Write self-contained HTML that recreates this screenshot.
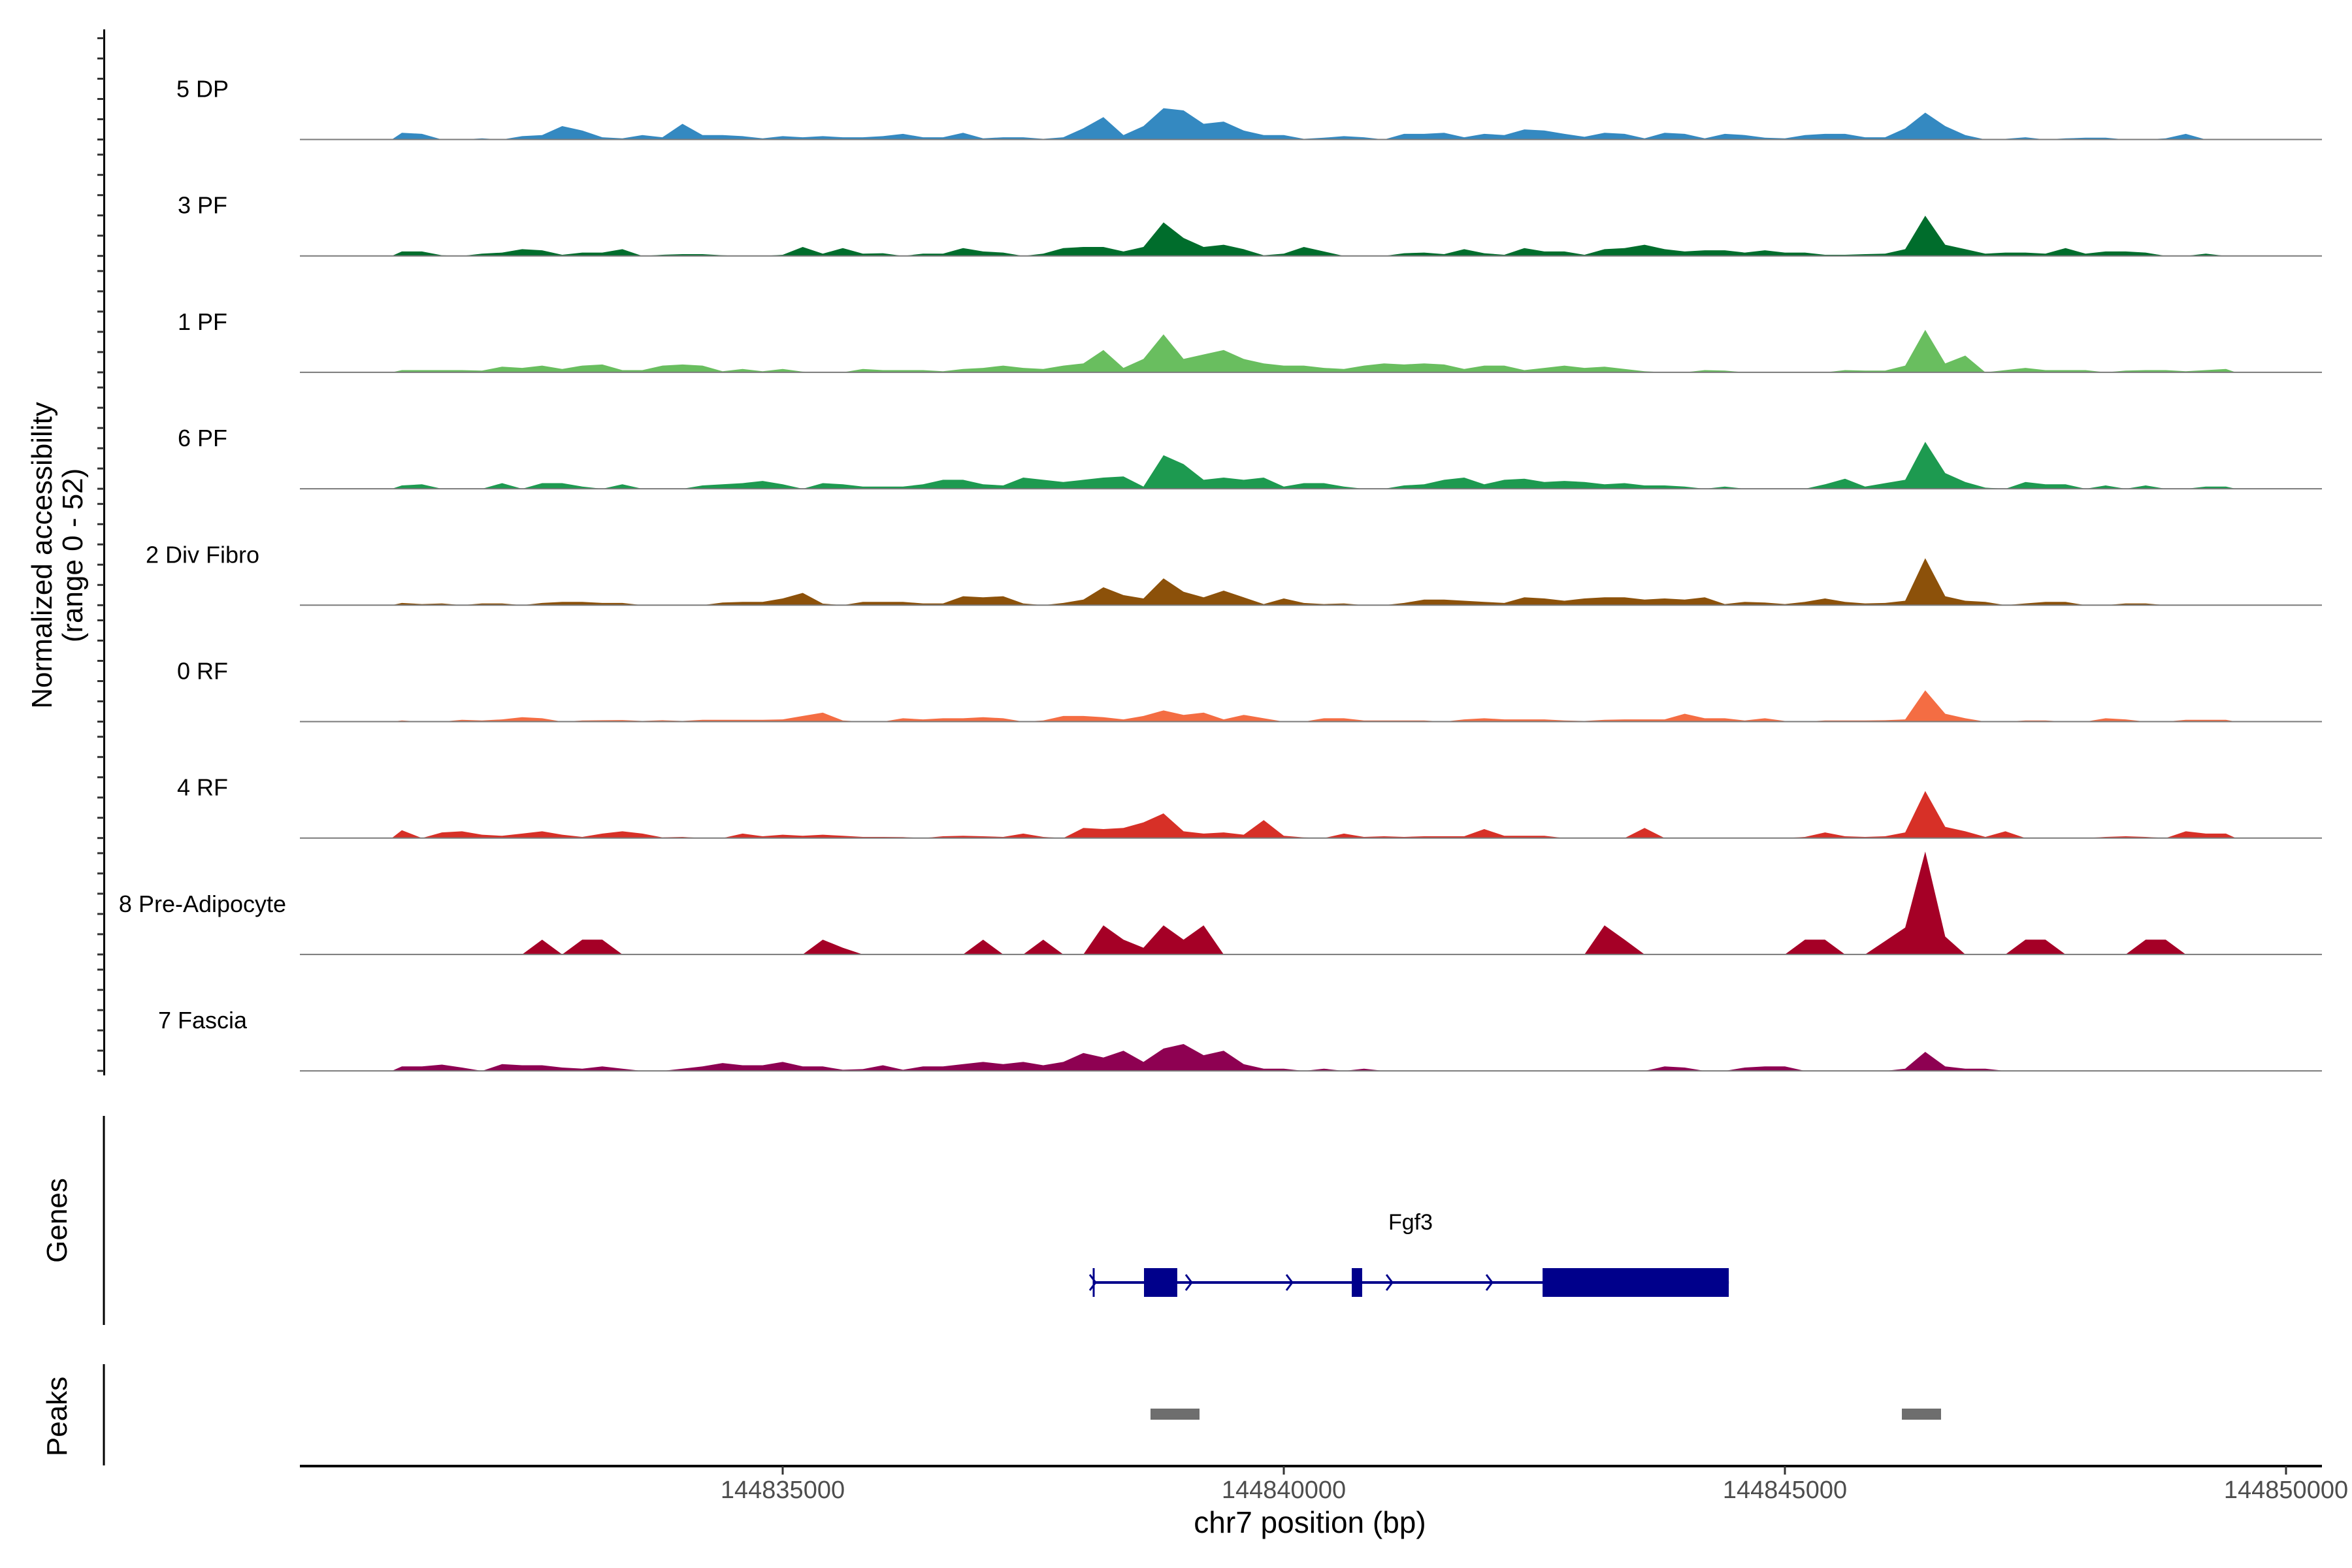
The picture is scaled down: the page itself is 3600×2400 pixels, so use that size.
<!DOCTYPE html>
<html><head><meta charset="utf-8">
<style>
html,body{margin:0;padding:0;background:#fff;}
svg{display:block;font-family:"Liberation Sans",sans-serif;}
</style></head>
<body>
<svg id="chart" width="3600" height="2400" viewBox="0 0 3600 2400" xmlns="http://www.w3.org/2000/svg">
  <g id="tracks"></g>
  <g id="yaxis">
    <line x1="159.5" y1="45" x2="159.5" y2="1646" stroke="#000" stroke-width="3"/>
  </g>
  <text transform="translate(79,850) rotate(-90)" text-anchor="middle" font-size="44" fill="#000">Normalized accessibility</text>
  <text transform="translate(126,850) rotate(-90)" text-anchor="middle" font-size="44" fill="#000">(range 0 - 52)</text>
  <g id="genes">
    <line x1="159" y1="1708" x2="159" y2="2028" stroke="#000" stroke-width="3"/>
    <text transform="translate(102,1868) rotate(-90)" text-anchor="middle" font-size="44">Genes</text>
  </g>
  <g id="peaks">
    <line x1="159" y1="2088" x2="159" y2="2243" stroke="#000" stroke-width="3"/>
    <text transform="translate(102,2168) rotate(-90)" text-anchor="middle" font-size="44">Peaks</text>
  </g>
  <g id="xaxis">
    <line x1="459" y1="2244" x2="3554" y2="2244" stroke="#000" stroke-width="4"/>
  </g>
  <text x="2005" y="2346" text-anchor="middle" font-size="46" fill="#000">chr7 position (bp)</text>
</svg>
<script>
// ---- data ----
const binStart = 144831100;
const binWidth = 200;
const trackNames = ["5 DP","3 PF","1 PF","6 PF","2 Div Fibro","0 RF","4 RF","8 Pre-Adipocyte","7 Fascia"];
const trackColors = ["#3489c1","#006d2c","#69be5f","#1d9a50","#8c510a","#f46d43","#d73027","#a50026","#8e0152"];
const dp = [3,2.5,0,0,0.5,0,1.5,2,6,4, 1,0.5,2,1,7,2,2,1.5,0.5,1.5, 1,1.5,1,1,1.5,2.5,1,1,3,0.5, 1,1,0.3,1,5,10,2,6,14,13, 7,8,4,2,2,0.3,0.8,1.5,1,0, 2.5,2.5,3,1,2.5,2,4.5,4,2.5,1.2, 3,2.5,0.5,3,2.5,0.5,2.5,2,0.8,0.5, 2,2.5,2.5,1,1,5,12,6,2,0, 0.3,1,0,0.5,0.8,0.8,0,0,0.5,2.5, 0,0];
const pf3 = [2,2,0.3,0,1,1.5,3,2.5,0.5,1.5, 1.5,3,0,0.5,0.8,0.8,0.3,0,0,0.5, 4,1,3.5,1,1.2,0,1,1,3.5,2, 1.5,0,1,3.5,4,4,2,4,15,8, 4,5,3,0.3,1,4,2,0,0,0, 1.2,1.5,0.8,3,1.2,0.5,3.5,2,2,0.5, 3,3.5,5,3,2,2.5,2.5,1.5,2.5,1.5, 1.5,0.5,0.5,0.8,1,3,18,5,3,1, 1.5,1.5,1,3.5,1,2,2,1.5,0,0, 1,0];
const pf1 = [1,1,1,1,0.8,2.5,2,3,1.5,3, 3.5,1,1,3,3.5,3,0.5,1.5,0.5,1.5, 0.3,0,0,1.5,1,1,1,0.5,1.5,2, 3,2,1.5,3,4,10,2,6,17,6, 8,10,6,4,3,3,2,1.5,3,4, 3.5,4,3.5,1.5,3,3,1,2,3,2, 2.5,1.5,0.5,0,0,1,0.8,0,0,0, 0,0,1,0.8,0.8,3,19,4,7.5,0, 1,2,1,1,1,0,0.8,1,1,0.5, 1,1.5];
const pf6 = [1.5,2,0,0,0,2.5,0,2.5,2.5,1, 0,2,0,0,0,1.5,2,2.5,3.5,2, 0,2.5,2,1,1,1,2,4,4,2, 1.5,5,4,3,4,5,5.5,1,15,11, 4,5,4,5,1,2.5,2.5,1,0,0, 1.5,2,4,5,2,4,4.5,3,3.5,3, 2,2.5,1.5,1.5,1,0,1,0,0,0, 0,2,4.5,1,2.5,4,21,7,3,0.5, 0,3,2,2,0,1.5,0,1.5,0,0, 1,1];
const divFibro = [1,0.5,0.8,0,0.8,0.8,0,1,1.5,1.5, 1,1,0,0,0,0,1.2,1.5,1.5,3, 5.5,0.7,0,1.5,1.5,1.5,0.8,0.8,4,3.5, 4,0.8,0,1,2.5,8,4.5,3,12,6, 3.5,6.5,3.5,0.5,3,1,0.5,0.8,0,0, 1,2.5,2.5,2,1.5,1,3.5,3,2,3, 3.5,3.5,2.5,3,2.5,3.5,0.5,1.5,1.2,0.5, 1.5,3,1.5,0.8,1,2,21,4,2,1.5, 0,0.8,1.5,1.5,0,0,0.8,0.8,0,0, 0,0];
const rf0 = [0.5,0,0,0.8,0.5,1,2,1.5,0,0.5, 0.6,0.7,0.3,0.6,0.3,0.8,0.8,0.8,0.8,1, 2.5,4,0.5,0,0,1.5,1,1.5,1.5,2, 1.5,0,0.5,2.5,2.5,2,1,2.5,5,3, 4,1,3,1.5,0,0,1.5,1.5,0.5,0.5, 0.5,0.5,0,1,1.5,1,1,1,0.5,0.3, 0.8,1,1,1,3.5,1.5,1.5,0.5,1.5,0.3, 0,0.5,0.5,0.5,0.6,1,14,3.5,1.5,0, 0,0.5,0.5,0,0,1.5,1,0,0,0.8, 0.8,0.8];
const rf4 = [3.5,0,2.5,3,1.5,1,2,3,1.5,0.5, 2,3,2,0.3,0.5,0,0,2,0.8,1.5, 1,1.5,1,0.5,0.5,0.4,0,0.8,1,0.8, 0.5,2,0.5,0,4.5,4,4.5,7,11,3, 2,2.5,1.5,8,1,0.3,0,2,0.5,0.8, 0.5,0.8,0.8,0.8,4,1,1,1,0,0, 0,0,4.5,0,0,0,0,0,0,0, 0.5,2.5,0.8,0.5,0.8,2.5,21,5,3,0.5, 3,0,0,0,0,0.5,0.8,0.5,0,3, 2,2];
const preAdipocyte = [0,0,0,0,0,0,0,6.6,0,6.6, 6.6,0,0,0,0,0,0,0,0,0, 0,6.6,3,0,0,0,0,0,0,6.6, 0,0,6.6,0,0,13,6.6,3,13,6.6, 13,0,0,0,0,0,0,0,0,0, 0,0,0,0,0,0,0,0,0,0, 13,6.6,0,0,0,0,0,0,0,0, 6.6,6.6,0,0,6,12,46,8,0,0, 0,6.6,6.6,0,0,0,0,6.6,6.6,0, 0,0];
const fascia = [2,2,2.8,1.5,0,3,2.5,2.5,1.5,1, 2,1,0,0,1,2,3.5,2.5,2.5,4, 2,2,0.5,0.8,2.5,0.5,2,2,3,4, 3,4,2.5,4,8,6,9,4,10,12, 7,9,3,1,1,0,1,0,1,0, 0,0,0,0,0,0,0,0,0,0, 0,0,0,2,1.5,0,0,1.5,2,2, 0,0,0,0,0,1,8.5,2,1,1, 0,0,0,0,0,0,0,0,0,0, 0,0];
const trackValues = [dp,pf3,pf1,pf6,divFibro,rf0,rf4,preAdipocyte,fascia];
const yTicks = [0,10,20,30,40,50];
const xTicks = [144835000,144840000,144845000,144850000];
const xTickLabels = ["144835000","144840000","144845000","144850000"];
const geneStart = 144838103;
const geneEnd = 144844440;
const exonStarts = [144838605,144840678,144842582];
const exonEnds = [144838937,144840782,144844440];
const chevrons = [144839061,144840065,144841063,144842060];
const peakStarts = [144838670,144846167];
const peakEnds = [144839159,144846558];

// ---- scales ----
const NS = "http://www.w3.org/2000/svg";
const xPx = bp => 1965 + (bp - 144840000) * 767 / 5000;
const firstBase = 213.5, trackGap = 178.2;
const yPerUnit = 178 / 52;
const baseY = i => firstBase + i * trackGap;
const yPx = (i, v) => baseY(i) - v * yPerUnit;
function mk(tag, attrs, parent){ const e=document.createElementNS(NS,tag); for(const k in attrs) e.setAttribute(k,attrs[k]); parent.appendChild(e); return e; }

const tracksG = document.getElementById('tracks');
trackValues.forEach((vals, t) => {
  const g = mk('g', {}, tracksG);
  
  
  const lbl = mk('text', {x:310, y:baseY(t)-65, 'text-anchor':'middle', 'font-size':36, fill:'#000'}, g);
  lbl.textContent = trackNames[t];
  
  
  let d = 'M' + xPx(binStart).toFixed(1) + ',' + baseY(t);
  vals.forEach((v, i) => {
    d += ' L' + xPx(binStart + binWidth * (i + 0.5)).toFixed(1) + ',' + yPx(t, v).toFixed(1);
  });
  d += ' L' + xPx(binStart + binWidth * vals.length).toFixed(1) + ',' + baseY(t) + ' Z';
  const area = mk('path', {d:d, fill:trackColors[t], stroke:'none'}, g);
  
  
  const bl = mk('line', {x1:459, x2:3554, y1:baseY(t), y2:baseY(t), stroke:'#7a7a7a', 'stroke-width':2}, g);
  
  
  const yaxis = document.getElementById('yaxis');
  yTicks.forEach(tv => {
    const tk = mk('line', {x1:149, x2:159, y1:yPx(t, tv * 3.1 / yPerUnit), y2:yPx(t, tv * 3.1 / yPerUnit), stroke:'#333', 'stroke-width':3}, yaxis);
    
    
  });
});

// genes
const genesG = document.getElementById('genes');
const gy = 1963;
const gl = mk('line', {x1:xPx(geneStart), x2:xPx(geneEnd), y1:gy, y2:gy, stroke:'#00008b', 'stroke-width':4}, genesG);


const gs = mk('line', {x1:xPx(geneStart), x2:xPx(geneStart), y1:1941, y2:1985, stroke:'#00008b', 'stroke-width':3}, genesG);


exonStarts.forEach((s, i) => {
  const r = mk('rect', {x:xPx(s), y:1941, width:xPx(exonEnds[i]) - xPx(s), height:44, fill:'#00008b'}, genesG);
  
  
});
[geneStart].concat(chevrons).forEach(c => {
  const x = xPx(c);
  const p = mk('path', {d:`M${x-6},${gy-12} L${x+3},${gy} L${x-6},${gy+12}`, fill:'none', stroke:'#00008b', 'stroke-width':3}, genesG);
  
  
});
const gname = mk('text', {x:2159, y:1882, 'text-anchor':'middle', 'font-size':34, fill:'#000'}, genesG);
gname.textContent = 'Fgf3';



// peaks
const peaksG = document.getElementById('peaks');
peakStarts.forEach((s, i) => {
  const r = mk('rect', {x:xPx(s), y:2156, width:xPx(peakEnds[i]) - xPx(s), height:17, fill:'#6e6e6e'}, peaksG);
  
  
});

// x axis
const xg = document.getElementById('xaxis');
xTicks.forEach((t, i) => {
  const tk = mk('line', {x1:xPx(t), x2:xPx(t), y1:2244, y2:2257, stroke:'#333', 'stroke-width':3}, xg);
  
  
  const tl = mk('text', {x:xPx(t), y:2293, 'text-anchor':'middle', 'font-size':38, fill:'#4d4d4d'}, xg);
  tl.textContent = xTickLabels[i];
  
  
});
</script>
</body></html>
